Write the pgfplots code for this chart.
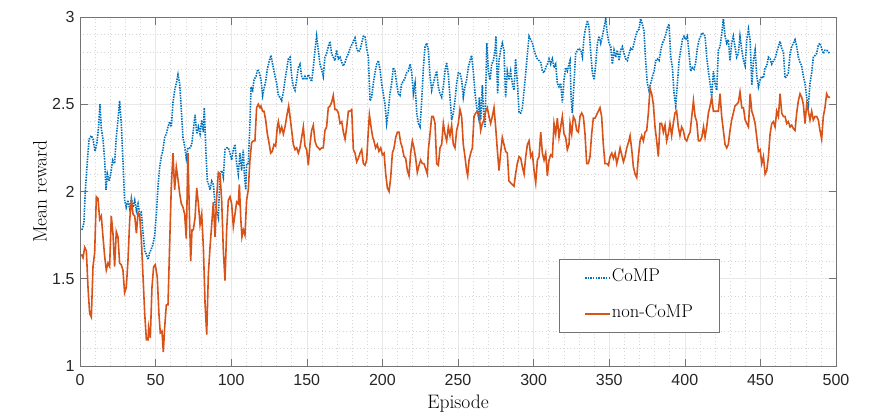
\documentclass[border=0pt]{standalone}
\usepackage{fontspec}
\newfontfamily\tickfont{Liberation Sans}
\usepackage{pgfplots}
\pgfplotsset{compat=1.18}
\definecolor{matblue}{rgb}{0,0.447,0.741}
\definecolor{matorange}{rgb}{0.85,0.325,0.098}
\definecolor{axgray}{rgb}{0.15,0.15,0.15}
\begin{document}
\begin{tikzpicture}
\begin{axis}[
 scale only axis, width=756bp, height=349bp,
 xmin=0,xmax=500,ymin=1,ymax=3,
 xtick={0,50,...,500}, ytick={1,1.5,2,2.5,3},
 minor x tick num=4, minor y tick num=4,
 grid=both,
 major grid style={color=black!9, line width=0.6bp},
 minor grid style={color=black!16, line width=0.5bp, dash pattern=on 1bp off 2.5bp},
 axis line style={color=black!55, line width=0.6bp},
 tick align=inside, major tick length=7.5bp, minor tick length=0pt,
 major tick style={color=black!55, line width=0.6bp},
 every tick label/.append style={font=\tickfont\fontsize{16bp}{19bp}\selectfont, text=black!85},
 /pgf/number format/assume math mode=true,
 xticklabel style={yshift=-5bp}, yticklabel style={xshift=-2bp},
 xlabel={Episode}, ylabel={Mean reward},
 label style={font=\fontsize{19.5bp}{22bp}\selectfont, text=black},
 xlabel style={at={(axis description cs:0.5,-0.109)}, anchor=center},
 ylabel style={at={(axis description cs:-0.053,0.5)}, anchor=center},
 legend cell align=left,
 legend image code/.code={\draw[#1] (0bp,0bp) -- (25bp,0bp);},
 legend style={at={(rel axis cs:0.6336,0.3066)}, anchor=north west,
   draw=black!55, line width=0.6bp, fill=white,
   font=\fontsize{18.5bp}{22bp}\selectfont,
   inner xsep=25bp, inner ysep=8.5bp, row sep=16bp,
   nodes={inner sep=1bp, text height=13bp, text depth=5bp}},
]
\coordinate (bl) at (rel axis cs:0,0);
\coordinate (tr) at (rel axis cs:1,1);
\addplot[matblue, line width=1.6bp, dash pattern=on 1.5bp off 1.1bp] coordinates {
(1.3,1.78)(2.6,1.82)(3.5,2.00)(4.9,2.18)(6.0,2.30)(7.5,2.32)(8.6,2.30)(10.0,2.23)(11.2,2.28)(12.3,2.37)
(13.2,2.50)(14.1,2.36)(15.2,2.30)(16.3,2.18)(17.2,2.01)(18.1,2.10)(19.2,2.06)(20.3,2.10)(21.6,2.18)(22.9,2.16)
(24.0,2.31)(25.1,2.41)(26.2,2.52)(27.3,2.39)(28.4,2.18)(29.5,1.95)(30.6,1.91)(31.7,1.95)(32.9,1.90)(34.0,1.96)
(35.1,1.91)(36.2,1.95)(37.3,1.89)(38.4,1.93)(39.5,1.87)(40.6,1.88)(41.7,1.76)(42.8,1.66)(43.9,1.64)(45.0,1.61)
(46.1,1.65)(47.2,1.67)(48.3,1.70)(49.4,1.75)(50.5,1.87)(51.6,2.03)(52.7,2.14)(53.8,2.20)(54.9,2.24)(56.0,2.31)
(57.1,2.33)(58.2,2.37)(59.3,2.40)(60.4,2.37)(61.5,2.51)(62.6,2.58)(63.7,2.62)(64.8,2.67)(65.9,2.62)(67.0,2.47)
(68.1,2.31)(69.2,2.26)(70.3,2.19)(71.4,2.25)(72.75,2.25)(73.85,2.27)(74.95,2.35)(76.1,2.44)(77.2,2.33)(78.3,2.37)
(79.4,2.33)(80.5,2.41)(81.6,2.34)(82.2,2.48)(83.3,2.22)(84.2,2.06)(85.1,2.04)(86.0,2.01)(87.1,2.06)(88.2,2.04)
(89.3,1.93)(90.4,1.89)(91.5,1.85)(92.6,2.10)(93.7,2.12)(94.8,2.08)(95.9,2.24)(97.0,2.25)(98.1,2.25)(99.2,2.22)
(100.3,2.18)(101.4,2.24)(102.5,2.27)(103.6,2.16)(104.7,2.10)(105.8,2.22)(106.9,2.12)(108.0,2.24)(108.7,2.10)(109.6,2.01)
(110.2,2.16)(111.3,2.16)(112.4,2.39)(113.1,2.60)(114.2,2.58)(115.1,2.64)(116.4,2.66)(117.5,2.70)(118.6,2.68)(119.7,2.64)
(120.8,2.55)(121.7,2.59)(122.8,2.63)(123.9,2.70)(125.2,2.75)(126.3,2.78)(127.4,2.73)(129.0,2.66)(130.1,2.62)(131.2,2.55)
(132.3,2.54)(133.4,2.52)(134.5,2.57)(135.6,2.64)(136.7,2.70)(137.8,2.76)(138.9,2.77)(140.0,2.66)(141.1,2.60)(142.2,2.58)
(143.3,2.64)(144.4,2.71)(145.5,2.73)(146.6,2.66)(147.7,2.64)(148.8,2.66)(149.9,2.64)(151.0,2.67)(152.1,2.65)(153.2,2.63)
(154.3,2.71)(155.4,2.81)(156.5,2.89)(157.6,2.81)(158.7,2.73)(159.8,2.70)(160.9,2.66)(162.0,2.77)(163.1,2.79)(164.2,2.83)
(165.3,2.86)(166.4,2.79)(167.5,2.77)(168.6,2.75)(169.7,2.81)(170.9,2.76)(172.0,2.77)(173.1,2.74)(174.2,2.72)(175.3,2.74)
(176.4,2.77)(177.5,2.79)(178.6,2.82)(179.7,2.84)(180.8,2.86)(181.9,2.88)(183.0,2.82)(184.1,2.80)(185.2,2.81)(186.3,2.85)
(187.4,2.89)(188.5,2.89)(189.6,2.82)(190.7,2.77)(191.8,2.52)(192.9,2.54)(194.0,2.62)(195.1,2.68)(196.2,2.73)(197.3,2.75)
(198.4,2.70)(199.5,2.62)(200.6,2.56)(201.7,2.50)(202.8,2.39)(203.9,2.46)(205.0,2.56)(206.1,2.62)(207.2,2.71)(208.3,2.69)
(209.4,2.62)(210.5,2.56)(211.6,2.55)(212.7,2.62)(213.8,2.63)(214.9,2.65)(216.0,2.68)(217.1,2.69)(218.3,2.73)(219.4,2.68)
(220.5,2.56)(221.6,2.62)(222.7,2.45)(223.8,2.39)(224.9,2.37)(226.0,2.52)(227.1,2.71)(228.2,2.83)(229.3,2.85)(230.4,2.81)
(231.5,2.66)(232.6,2.58)(233.7,2.62)(234.8,2.66)(235.9,2.69)(237.0,2.60)(238.1,2.56)(239.2,2.54)(240.3,2.60)(241.4,2.69)
(242.5,2.74)(243.6,2.67)(244.7,2.54)(245.8,2.41)(246.9,2.45)(248.0,2.52)(249.1,2.62)(250.2,2.68)(251.3,2.68)(252.4,2.64)
(253.5,2.54)(254.6,2.60)(255.7,2.64)(256.8,2.71)(257.9,2.75)(259.0,2.78)(260.1,2.69)(261.3,2.56)(262.4,2.48)(263.5,2.43)
(264.1,2.54)(265.0,2.41)(266.1,2.61)(267.0,2.43)(267.9,2.37)(269.0,2.85)(270.1,2.69)(271.2,2.64)(272.3,2.73)(273.4,2.75)
(274.5,2.81)(275.1,2.89)(276.2,2.56)(277.1,2.75)(278.2,2.81)(279.3,2.85)(280.4,2.81)(281.5,2.54)(282.6,2.69)(283.7,2.64)
(284.8,2.69)(285.9,2.62)(287.0,2.58)(288.1,2.76)(289.3,2.62)(290.4,2.45)(291.5,2.45)(292.6,2.48)(293.7,2.58)(294.8,2.68)
(295.9,2.79)(297.0,2.89)(298.1,2.87)(299.2,2.85)(300.3,2.81)(301.4,2.78)(302.5,2.76)(303.6,2.75)(304.7,2.74)(305.8,2.69)
(306.9,2.68)(308.0,2.71)(309.1,2.73)(310.2,2.76)(311.3,2.73)(312.4,2.76)(313.5,2.71)(314.6,2.73)(315.7,2.62)(316.8,2.60)
(317.9,2.62)(319.0,2.51)(320.1,2.64)(321.2,2.71)(322.3,2.69)(323.4,2.73)(324.1,2.75)(324.8,2.54)(325.6,2.45)(326.7,2.62)
(327.8,2.79)(328.9,2.81)(330.0,2.82)(331.2,2.81)(332.3,2.77)(333.4,2.89)(334.5,2.94)(335.6,2.98)(336.7,2.94)(337.8,2.79)
(338.9,2.68)(340.0,2.64)(341.1,2.73)(342.2,2.85)(343.3,2.89)(344.4,2.85)(345.5,2.89)(346.6,2.94)(347.7,2.99)(348.8,2.90)
(349.9,2.85)(351.0,2.83)(352.1,2.73)(353.2,2.81)(354.3,2.77)(355.4,2.81)(356.5,2.75)(357.6,2.81)(358.7,2.83)(359.8,2.79)
(360.9,2.76)(362.0,2.75)(363.1,2.79)(364.2,2.82)(365.3,2.81)(366.4,2.85)(367.5,2.89)(368.6,2.92)(369.7,2.93)(370.8,2.99)
(371.9,2.96)(373.0,2.92)(374.1,2.75)(375.2,2.62)(376.3,2.58)(377.5,2.62)(378.6,2.66)(379.7,2.69)(380.8,2.75)(381.9,2.76)
(383.0,2.75)(384.1,2.81)(385.2,2.85)(386.3,2.87)(387.4,2.90)(388.5,2.94)(389.6,2.96)(390.7,2.77)(391.8,2.71)(392.9,2.56)
(394.0,2.49)(395.1,2.62)(396.2,2.75)(397.3,2.81)(398.4,2.87)(399.5,2.89)(400.6,2.87)(401.7,2.89)(402.8,2.79)(403.9,2.69)
(405.0,2.71)(406.1,2.70)(407.2,2.74)(408.3,2.82)(409.4,2.87)(410.5,2.89)(411.6,2.91)(412.7,2.90)(413.4,2.89)(414.5,2.77)
(415.6,2.69)(416.7,2.62)(417.8,2.54)(418.9,2.69)(420.0,2.62)(421.1,2.58)(422.2,2.81)(423.3,2.83)(424.4,2.90)(425.5,2.99)
(426.6,2.89)(427.7,2.85)(428.8,2.87)(429.9,2.75)(431.0,2.85)(432.1,2.89)(433.2,2.83)(434.3,2.77)(435.4,2.79)(436.5,2.89)
(437.7,2.81)(438.8,2.75)(439.9,2.72)(441.0,2.87)(442.1,2.93)(443.2,2.87)(444.3,2.61)(445.4,2.75)(446.5,2.81)(447.6,2.66)
(448.7,2.60)(449.8,2.64)(450.9,2.66)(452.0,2.65)(453.1,2.71)(454.2,2.72)(455.3,2.77)(456.4,2.76)(457.5,2.73)(458.6,2.75)
(459.7,2.76)(460.8,2.80)(461.9,2.83)(463.0,2.86)(464.1,2.82)(465.2,2.80)(466.3,2.65)(467.4,2.66)(468.5,2.68)(469.6,2.79)
(470.7,2.83)(471.8,2.85)(472.9,2.87)(474.0,2.83)(475.1,2.77)(476.2,2.74)(477.3,2.72)(478.4,2.66)(479.5,2.62)(480.6,2.54)
(481.7,2.49)(482.8,2.62)(483.9,2.68)(485.0,2.77)(486.1,2.78)(487.2,2.79)(488.3,2.84)(489.4,2.85)(490.5,2.82)(491.6,2.79)
(492.7,2.81)(493.8,2.81)(494.9,2.80)(496.0,2.79)
};
\addlegendentry{CoMP}
\addplot[matorange, line width=1.6bp] coordinates {
(0.9,1.64)(2.0,1.62)(3.1,1.68)(4.2,1.66)(5.3,1.45)(6.4,1.30)(7.5,1.28)(8.6,1.57)(9.7,1.65)(10.8,1.97)
(11.9,1.96)(13.0,1.84)(14.1,1.86)(15.2,1.74)(16.3,1.63)(17.4,1.55)(18.5,1.59)(19.6,1.57)(20.7,1.86)(21.8,1.76)
(22.9,1.57)(24.0,1.77)(25.1,1.74)(26.2,1.59)(27.3,1.58)(28.4,1.55)(29.5,1.42)(30.6,1.45)(31.7,1.60)(32.9,1.84)
(34.0,1.95)(35.1,1.87)(36.2,1.86)(37.3,1.76)(38.4,1.88)(39.5,1.86)(40.6,1.72)(41.7,1.51)(42.8,1.30)(43.9,1.15)
(45.0,1.15)(45.4,1.22)(46.5,1.16)(47.6,1.45)(48.7,1.57)(49.8,1.58)(51.1,1.51)(52.2,1.30)(53.1,1.19)(54.2,1.20)
(55.1,1.08)(56.0,1.22)(57.1,1.35)(58.2,1.35)(59.3,1.70)(60.4,2.03)(61.5,2.22)(62.6,2.01)(63.7,2.14)(64.8,2.07)
(65.9,1.99)(67.0,1.93)(68.1,1.91)(69.2,1.87)(70.3,1.73)(71.4,2.22)(72.3,1.89)(73.2,1.60)(74.1,1.78)(74.95,1.78)
(76.1,1.85)(77.2,2.02)(78.3,1.93)(79.4,1.81)(80.5,1.87)(81.6,1.68)(82.7,1.36)(83.8,1.18)(84.9,1.53)(86.0,1.68)
(87.1,1.81)(88.2,1.94)(89.3,1.74)(90.4,1.97)(91.5,2.11)(92.6,2.10)(93.7,1.95)(94.8,1.66)(95.9,1.49)(97.0,1.78)
(98.1,1.95)(99.2,1.97)(100.3,1.93)(101.4,1.80)(102.5,1.87)(103.6,1.94)(104.7,1.93)(105.4,2.04)(106.3,1.85)(107.1,1.74)
(108.0,1.78)(109.1,1.75)(110.2,1.95)(111.3,2.01)(112.4,2.18)(113.5,2.28)(114.6,2.29)(115.7,2.29)(116.8,2.48)(117.9,2.50)
(119.0,2.48)(119.7,2.49)(120.8,2.46)(121.7,2.46)(122.8,2.41)(123.9,2.33)(125.0,2.28)(126.1,2.22)(127.2,2.23)(128.3,2.27)
(129.4,2.26)(130.5,2.37)(131.2,2.40)(132.3,2.34)(133.4,2.37)(134.5,2.33)(135.6,2.37)(136.7,2.43)(138.0,2.49)(138.9,2.43)
(140.0,2.35)(141.1,2.27)(142.2,2.24)(143.3,2.25)(144.4,2.22)(145.5,2.25)(146.6,2.31)(147.7,2.37)(148.8,2.26)(149.9,2.24)
(151.0,2.15)(152.1,2.27)(153.2,2.35)(154.3,2.38)(155.4,2.29)(156.5,2.26)(157.6,2.25)(158.7,2.24)(159.8,2.25)(160.9,2.25)
(162.0,2.35)(163.1,2.37)(164.2,2.48)(165.3,2.49)(166.4,2.51)(167.5,2.55)(168.6,2.47)(169.7,2.47)(170.9,2.45)(172.0,2.39)
(173.1,2.40)(174.2,2.34)(175.3,2.30)(176.4,2.37)(177.5,2.46)(178.6,2.46)(179.7,2.47)(180.8,2.24)(181.9,2.22)(183.0,2.17)
(184.1,2.19)(185.2,2.22)(186.3,2.24)(187.4,2.16)(188.5,2.15)(189.6,2.18)(190.7,2.35)(191.4,2.44)(192.5,2.37)(193.6,2.31)
(194.4,2.29)(195.5,2.25)(196.6,2.27)(197.7,2.23)(198.9,2.25)(200.0,2.21)(201.1,2.22)(202.2,2.10)(203.3,2.02)(204.4,2.00)
(205.5,2.08)(206.6,2.22)(207.7,2.25)(208.8,2.31)(209.9,2.34)(211.0,2.34)(212.1,2.28)(213.2,2.25)(214.3,2.20)(215.4,2.19)
(216.5,2.12)(217.6,2.09)(218.7,2.22)(219.8,2.29)(220.9,2.25)(222.0,2.19)(223.1,2.11)(224.2,2.15)(225.3,2.18)(226.4,2.16)
(227.5,2.16)(228.6,2.13)(229.7,2.10)(230.4,2.24)(231.5,2.33)(232.6,2.43)(233.7,2.43)(234.8,2.39)(235.9,2.16)(237.0,2.15)
(238.1,2.25)(239.2,2.27)(240.3,2.39)(241.4,2.33)(242.5,2.29)(243.6,2.37)(244.7,2.32)(245.8,2.38)(246.9,2.27)(248.0,2.25)
(249.1,2.35)(250.2,2.39)(251.3,2.47)(252.4,2.43)(253.5,2.27)(254.6,2.20)(255.7,2.12)(256.4,2.09)(257.3,2.18)(258.4,2.22)
(259.5,2.25)(260.6,2.43)(261.7,2.45)(262.8,2.46)(263.9,2.45)(265.0,2.35)(266.1,2.39)(267.2,2.41)(268.3,2.46)(269.4,2.48)
(270.5,2.43)(271.6,2.39)(272.7,2.43)(273.8,2.48)(274.9,2.37)(276.0,2.24)(277.1,2.12)(278.2,2.22)(279.3,2.31)(280.4,2.27)
(281.5,2.23)(282.6,2.22)(283.7,2.06)(284.8,2.05)(285.9,2.04)(287.0,2.03)(288.1,2.10)(289.2,2.16)(290.4,2.20)(291.5,2.19)
(292.6,2.14)(293.7,2.10)(294.8,2.20)(295.9,2.27)(297.0,2.29)(298.1,2.20)(299.2,2.22)(300.3,2.12)(301.4,2.05)(302.5,2.18)
(303.6,2.20)(304.7,2.34)(305.8,2.22)(306.9,2.18)(308.0,2.22)(309.1,2.09)(310.2,2.18)(311.3,2.21)(312.4,2.20)(313.5,2.39)
(314.6,2.33)(315.7,2.42)(316.8,2.31)(317.9,2.37)(319.0,2.43)(320.1,2.33)(321.2,2.31)(322.3,2.24)(323.4,2.27)(324.1,2.39)
(325.2,2.33)(326.3,2.43)(327.4,2.41)(328.5,2.35)(329.6,2.34)(330.7,2.43)(331.8,2.45)(332.9,2.43)(334.0,2.33)(335.1,2.16)
(336.2,2.16)(337.3,2.20)(338.4,2.33)(339.5,2.42)(340.6,2.42)(341.7,2.44)(342.8,2.46)(343.9,2.48)(345.0,2.43)(346.1,2.27)
(347.2,2.16)(348.4,2.16)(349.5,2.15)(350.6,2.20)(351.7,2.22)(352.8,2.19)(353.9,2.22)(355.0,2.16)(356.1,2.20)(357.2,2.25)
(358.3,2.21)(359.4,2.17)(360.5,2.20)(361.6,2.25)(362.7,2.28)(363.8,2.32)(364.9,2.24)(366.0,2.14)(367.1,2.10)(368.2,2.08)
(369.3,2.20)(370.4,2.29)(371.5,2.32)(372.6,2.29)(373.7,2.34)(374.8,2.35)(375.9,2.45)(377.0,2.59)(378.1,2.56)(379.2,2.50)
(380.3,2.37)(381.4,2.29)(382.5,2.20)(383.6,2.39)(384.7,2.39)(385.8,2.34)(386.9,2.38)(388.0,2.29)(389.1,2.33)(390.2,2.39)
(391.3,2.32)(392.4,2.39)(393.5,2.45)(394.6,2.46)(395.7,2.37)(396.8,2.32)(397.9,2.37)(399.0,2.35)(400.2,2.30)(401.3,2.29)
(402.4,2.32)(403.5,2.34)(404.6,2.43)(405.7,2.52)(406.8,2.43)(407.9,2.40)(409.0,2.29)(410.1,2.29)(411.2,2.31)(412.4,2.37)
(413.4,2.31)(414.5,2.37)(415.6,2.45)(416.7,2.49)(417.8,2.54)(418.9,2.46)(420.0,2.46)(421.1,2.46)(422.2,2.46)(423.3,2.56)
(424.4,2.43)(425.5,2.35)(426.6,2.27)(427.7,2.25)(428.8,2.27)(429.9,2.35)(431.0,2.41)(432.1,2.45)(433.2,2.49)(434.3,2.50)
(435.4,2.51)(436.5,2.57)(437.7,2.48)(438.8,2.48)(439.9,2.41)(441.0,2.39)(442.1,2.37)(443.2,2.56)(444.3,2.46)(445.4,2.43)
(446.5,2.39)(447.6,2.31)(448.7,2.23)(449.8,2.24)(450.9,2.16)(452.0,2.20)(453.1,2.10)(454.2,2.12)(455.3,2.20)(456.4,2.33)
(457.5,2.39)(458.6,2.40)(459.7,2.37)(460.8,2.46)(461.9,2.43)(463.0,2.56)(464.1,2.45)(465.2,2.43)(466.3,2.43)(467.4,2.39)
(468.5,2.40)(469.6,2.37)(470.7,2.38)(471.8,2.36)(472.9,2.35)(474.0,2.45)(475.1,2.52)(476.2,2.56)(477.3,2.54)(478.4,2.50)
(479.5,2.39)(480.6,2.50)(481.7,2.46)(482.8,2.41)(483.9,2.46)(485.0,2.41)(486.1,2.43)(487.2,2.43)(488.3,2.41)(489.4,2.35)
(490.5,2.30)(491.6,2.43)(492.7,2.48)(493.8,2.56)(494.9,2.54)(496.0,2.54)
};
\addlegendentry{non-CoMP}
\end{axis}
\path ([shift={(-80bp,-49bp)}]bl) rectangle ([shift={(36bp,17bp)}]tr);
\end{tikzpicture}
\end{document}
